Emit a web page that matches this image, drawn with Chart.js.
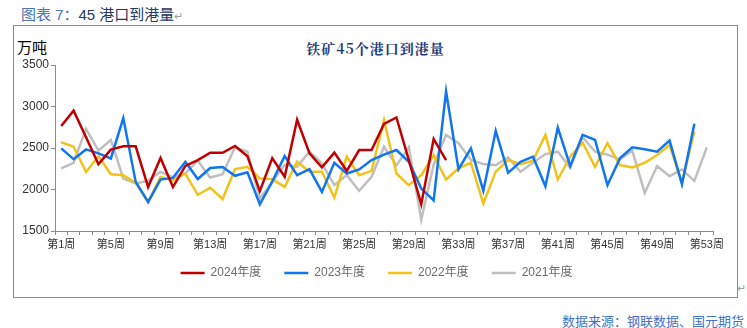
<!DOCTYPE html>
<html>
<head>
<meta charset="utf-8">
<script src="https://cdn.jsdelivr.net/npm/chart.js@4/dist/chart.umd.min.js"></script>
<style>
    body { margin: 0; background: #fff; }
    #wrap { position: relative; width: 747px; height: 328px; overflow: hidden; font-family: Arial, "Liberation Sans", "Noto Sans CJK SC", sans-serif; }
    #heading { position: absolute; left: 21px; top: 3px; font-size: 15px; color: #1f3864; white-space: nowrap; }
    #heading .lbl { color: #4a74b5; }
    .mark { color: #a0a0a0; font-size: 11px; }
    #box { position: absolute; left: 13px; top: 25px; width: 723px; height: 271px; border: 1px solid #8c8c8c; }
    #unit { position: absolute; left: 17px; top: 36px; font-size: 15px; color: #000; }
    #title { position: absolute; left: 0; width: 747px; top: 38px; text-align: center; padding-left: 2px; letter-spacing: 1px;
             font-family: "Noto Serif CJK SC", "DejaVu Serif", "Noto Sans CJK SC", serif; font-weight: bold; font-size: 14px; color: #1f3c7a; }
    #source { position: absolute; right: 3px; top: 311px; font-size: 13px; color: #4472c4; }
    #retmark { position: absolute; left: 737px; top: 282px; }
    canvas { position: absolute; left: 0; top: 0; }
</style>
</head>
<body>
<div id="wrap">
    <div id="heading"><span class="lbl">图表 7：</span>45 港口到港量<span class="mark">↵</span></div>
    <div id="box"></div>
    <div id="unit">万吨</div>
    <div id="title">铁矿45个港口到港量</div>
    <span id="retmark" class="mark">↵</span>
    <div id="source">数据来源：钢联数据、国元期货</div>
    <canvas id="portChart" width="747" height="328"></canvas>
</div>
<script>
// Week labels 第1周 .. 第53周
const weeks = Array.from({ length: 53 }, (_, i) => '第' + (i + 1) + '周');

const years = ['2024年度', '2023年度', '2022年度', '2021年度'];

// Weekly arrivals at 45 ports, 10k tonnes
const arrivals2024 = [2765, 2950, 2630, 2305, 2480, 2520, 2520, 2030, 2380, 2030,
    2285, 2355, 2443, 2443, 2524, 2400, 1980, 2378, 2153, 2840,
    2436, 2266, 2444, 2225, 2476, 2476, 2790, 2868, 2355, 1821,
    2609, 2355];

const arrivals2023 = [2496, 2366, 2483, 2435, 2374, 2860, 2092, 1850, 2120, 2140,
    2334, 2126, 2258, 2270, 2165, 2208, 1821, 2095, 2403, 2173,
    2246, 1971, 2322, 2193, 2242, 2355, 2420, 2476, 2334, 2011,
    1870, 3183, 2242, 2496, 1983, 2706, 2201, 2334, 2395, 2039,
    2747, 2282, 2658, 2597, 2052, 2375, 2508, 2484, 2456, 2589,
    2064, 2791];

const arrivals2022 = [2569, 2516, 2212, 2402, 2184, 2172, 2078, 1848, 2151, 2110,
    2190, 1935, 2022, 1885, 2246, 2274, 2132, 2125, 2031, 2334,
    2213, 2213, 1902, 2395, 2173, 2225, 2839, 2193, 2052, 2173,
    2415, 2120, 2254, 2322, 1829, 2215, 2355, 2306, 2347, 2658,
    2120, 2395, 2565, 2274, 2560, 2294, 2266, 2322, 2415, 2536,
    2080, 2698];

const arrivals2021 = [2254, 2322, 2730, 2468, 2597, 2133, 2072, 2105, 2213, 2145,
    2193, 2347, 2145, 2185, 2508, 2456, 1890, 2092, 2294, 2274,
    2456, 2314, 2052, 2173, 1983, 2153, 2515, 2288, 2508, 1636,
    2300, 2658, 2557, 2355, 2306, 2294, 2387, 2213, 2322, 2427,
    2456, 2266, 2629, 2456, 2420, 2363, 2468, 1959, 2282, 2161,
    2242, 2104, 2508];

const yTicks = [1500, 2000, 2500, 3000, 3500];

const lineColors = ['#c00000', '#0f76f0', '#f2c21b', '#bfbfbf'];
const seriesData = [arrivals2024, arrivals2023, arrivals2022, arrivals2021];

const axisColor = '#8c8c8c';
const tickFont = { family: 'Arial, "Liberation Sans", "Noto Sans CJK SC", sans-serif' };

// Nudge the legend box so it sits centred under the plot, just below the week labels
const legendShift = {
    id: 'legendShift',
    afterLayout(chart) {
        const lg = chart.legend;
        if (!lg) return;
        lg.left += 20; lg.right += 20;
        lg.top -= 13; lg.bottom -= 13;
    }
};

new Chart(document.getElementById('portChart'), {
    type: 'line',
    data: {
        labels: weeks,
        datasets: years.map((name, i) => ({
            label: name,
            data: seriesData[i],
            borderColor: lineColors[i],
            backgroundColor: lineColors[i],
            borderWidth: 2.5,
            pointRadius: 0,
            tension: 0,
            fill: false
        }))
    },
    plugins: [legendShift],
    options: {
        responsive: false,
        animation: false,
        layout: { padding: { left: 0, right: 34, top: 65, bottom: 26 } },
        plugins: {
            tooltip: { enabled: false },
            legend: {
                position: 'bottom',
                labels: {
                    usePointStyle: true,
                    pointStyle: 'line',
                    pointStyleWidth: 24,
                    padding: 23,
                    color: '#6b6b6b',
                    font: { ...tickFont, size: 12 }
                }
            }
        },
        scales: {
            x: {
                offset: true,
                afterFit: (scale) => { scale.height = 26; },
                grid: { offset: true, drawOnChartArea: false, tickLength: 4, color: axisColor },
                border: { color: axisColor, width: 1 },
                ticks: {
                    autoSkip: false,
                    maxRotation: 0,
                    padding: 3,
                    color: '#333',
                    font: { ...tickFont, size: 11 },
                    callback: (value, index) => index % 4 === 0 ? weeks[index] : ''
                }
            },
            y: {
                min: 1500,
                max: 3500,
                afterFit: (scale) => { scale.width = 55; },
                afterBuildTicks: (scale) => { scale.ticks = yTicks.map(v => ({ value: v })); },
                grid: { drawOnChartArea: false, tickLength: 4, color: axisColor },
                border: { color: axisColor, width: 1 },
                ticks: {
                    padding: 2,
                    color: '#333',
                    font: { ...tickFont, size: 12 },
                    callback: (value) => String(value)
                }
            }
        }
    }
});
</script>
</body>
</html>
